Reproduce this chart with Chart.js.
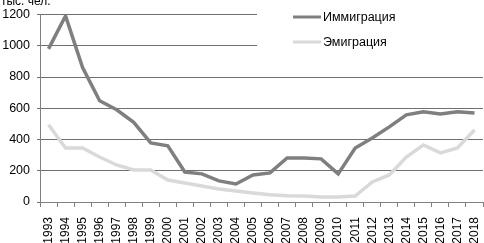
<!DOCTYPE html>
<html>
  <head>
    <title>Иммиграция и эмиграция</title>
    <script src="https://cdn.jsdelivr.net/npm/chart.js@4.4.0/dist/chart.umd.min.js"></script>
    <style>
      body { margin: 0; background: #fff; }
      #wrap { width: 484px; height: 243px; }
    </style>
  </head>
  <body>
    <div id="wrap"><canvas id="chart"></canvas></div>

    <script type="text/javascript">

      const years = ['1993', '1994', '1995', '1996', '1997', '1998', '1999', '2000', '2001', '2002',
        '2003', '2004', '2005', '2006', '2007', '2008', '2009', '2010', '2011', '2012',
        '2013', '2014', '2015', '2016', '2017', '2018'];

      const immigration = [980, 1191, 860, 648, 590, 510, 378, 360, 192, 180,
        135, 115, 173, 186, 282, 282, 276, 180, 346, 410,
        481, 558, 577, 564, 577, 570];

      const emigration = [494, 346, 346, 288, 237, 205, 205, 141, 122, 103,
        83, 70, 58, 47, 40, 38, 32, 32, 38, 128,
        173, 288, 365, 314, 346, 461];

      const yMax = 1200;
      const yStep = 200;

      // легенда и подпись оси рисуются вручную, как в оригинале
      const legendBox = {
        id: 'legendBox',
        afterDraw(chart) {
          const ctx = chart.ctx;
          ctx.save();
          ctx.fillStyle = '#fff';
          ctx.fillRect(257, 0, 227, 58);
          chart.data.datasets.forEach((d, i) => {
            const y = 17 + i * 25;
            ctx.strokeStyle = d.borderColor;
            ctx.lineWidth = 3;
            ctx.beginPath();
            ctx.moveTo(293, y);
            ctx.lineTo(321, y);
            ctx.stroke();
            ctx.fillStyle = '#000';
            ctx.font = '12.5px "Liberation Sans", Arial, sans-serif';
            ctx.textBaseline = 'middle';
            ctx.fillText(d.label, 323, y + 1);
          });
          ctx.font = '12px "Liberation Sans", Arial, sans-serif';
          ctx.textBaseline = 'alphabetic';
          ctx.fillText('тыс. чел.', 1, 5);
          ctx.restore();
        }
      };

      const ctx = document.getElementById('chart').getContext('2d');

      const myChart = new Chart(ctx, {
        type: 'line',
        data: {
          labels: years,
          datasets: [
            {
              label: 'Иммиграция',
              data: immigration,
              borderColor: '#7f7f7f',
              borderWidth: 3.5,
              pointRadius: 0,
              fill: false
            },
            {
              label: 'Эмиграция',
              data: emigration,
              borderColor: '#d9d9d9',
              borderWidth: 3.5,
              pointRadius: 0,
              fill: false
            }
          ]
        },
        options: {
          responsive: true,
          maintainAspectRatio: false,
          animation: false,
          layout: { padding: { top: 8, right: 1 } },
          plugins: {
            legend: { display: false },
            tooltip: { enabled: false }
          },
          scales: {
            x: {
              offset: true,
              grid: { drawOnChartArea: false, offset: true, tickLength: 5, color: '#808080' },
              border: { color: '#808080' },
              ticks: {
                minRotation: 90,
                maxRotation: 90,
                autoSkip: false,
                padding: 10,
                color: '#000',
                font: { family: '"Liberation Sans", Arial, sans-serif', size: 12 }
              },
              afterFit: (s) => {
                s.height = 41;
                s.paddingLeft = 0;
                s.paddingRight = 0;
              }
            },
            y: {
              min: 0,
              max: yMax,
              grid: { color: '#707070', lineWidth: 1, tickLength: 3 },
              border: { color: '#808080' },
              ticks: {
                stepSize: yStep,
                padding: 7,
                color: '#000',
                callback: (v) => String(v),
                font: { family: '"Liberation Sans", Arial, sans-serif', size: 12.5 }
              },
              afterFit: (s) => { s.width = 40; }
            }
          }
        },
        plugins: [legendBox]
      });

    </script>
  </body>
</html>
